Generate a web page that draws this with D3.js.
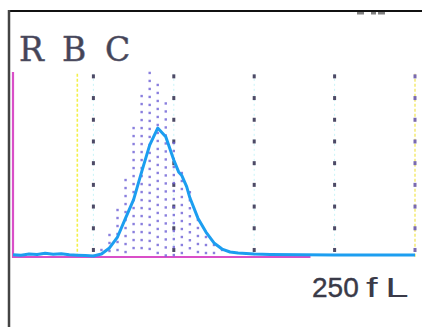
<!DOCTYPE html>
<html><head><meta charset="utf-8">
<script src="https://cdn.jsdelivr.net/npm/d3@7"></script>
<style>html,body{margin:0;padding:0;background:#fff;}svg{display:block;}</style>
</head><body>
<svg id="c" width="422" height="327"></svg>
<script>
// Raw histogram columns (fL) and their heights (relative counts, 0-100)
const rawBins = [55,60,65,70,75,80,85,90,95,100,105,110,115,120,125,130];
const rawVals = [3.8,11.9,25.4,41.6,69.7,87,99.5,93,83,61.6,45.4,35,20,10.8,6.5,3.8];
// Smoothed curve (fL, relative counts)
const curveFl  = [0,5,10,15,20,25,30,35,40,45,50,55,60,65,70,75,80,85,90,95,100,103,105,108,110,115,120,125,130,135,140,150,160,180,200,220,250];
const curveVal = [1.2,1.0,1.6,1.3,2.0,1.5,1.8,1.2,1.0,0.8,0.5,1.6,4.9,10.8,21,31,46,60.5,69.7,65,52.4,46,44,38,32,21,13.5,7.6,4.3,2.7,2.2,1.6,1.4,1.2,1.1,1.1,1.1];
const gridFl = [50,100,150,200];
const discrimFl = 40;
const titleLetters = ["R","B","C"];
const xLabelNum = "250";
const xLabelUnit = "fL";

const svg = d3.select("#c");
const x = d3.scaleLinear().domain([0,250]).range([13,415]);
const y = d3.scaleLinear().domain([0,100]).range([257,72]);

// frame
svg.append("line").attr("x1",8).attr("x2",422).attr("y1",11).attr("y2",11).attr("stroke","#111").attr("stroke-width",2);
svg.append("line").attr("x1",9).attr("x2",9).attr("y1",10).attr("y2",327).attr("stroke","#444").attr("stroke-width",2.5);
// top marks
[[357,7],[371,5],[378,7]].forEach(d=>svg.append("rect").attr("x",d[0]).attr("y",12).attr("width",d[1]).attr("height",2.5).attr("fill","#555").attr("opacity",0.75));

// title letters (serif, widely spaced)
svg.selectAll("text.title").data(titleLetters).enter().append("text").attr("class","title")
  .attr("x",(d,i)=>19+i*43).attr("y",61).text(d=>d)
  .style("font-family","'DejaVu Serif', 'Liberation Serif', serif")
  .style("font-size","33px").attr("fill","#444456").attr("stroke","#5a5a70").attr("stroke-width",0.5);

// discriminator (yellow dotted)
svg.append("line").attr("x1",x(discrimFl)).attr("x2",x(discrimFl)).attr("y1",y(99)).attr("y2",y(0))
  .attr("stroke","#f3f04a").attr("stroke-width",1.6).attr("stroke-dasharray","3,2");
// right edge line
svg.append("line").attr("x1",x(250)).attr("x2",x(250)).attr("y1",y(99)).attr("y2",y(0))
  .attr("stroke","#f3e86a").attr("stroke-width",1.4).attr("stroke-dasharray","3,2");

// grid lines: faint cyan plus dark dots
const dotVals = d3.range(3.8, 100, 11.73);
gridFl.concat([250]).forEach(f=>{
  if (f!==250) svg.append("line").attr("x1",x(f)).attr("x2",x(f)).attr("y1",y(99)).attr("y2",y(0))
     .attr("stroke","#c8f4f8").attr("stroke-width",1).attr("stroke-dasharray","2,3");
  svg.selectAll(null).data(dotVals).enter().append("rect")
    .attr("x",x(f)-1.5).attr("y",d=>y(d)-2).attr("width",3).attr("height",4)
    .attr("fill", f===250 ? "#7a6ab0" : "#4d4a66");
});

// axes (magenta)
svg.append("line").attr("x1",x(0)).attr("x2",x(0)).attr("y1",y(100)).attr("y2",y(0)+1)
  .attr("stroke","#d94fc8").attr("stroke-width",2.2);
svg.append("line").attr("x1",x(0)).attr("x2",x(185)).attr("y1",y(0)).attr("y2",y(0))
  .attr("stroke","#d94fc8").attr("stroke-width",2.2);

// raw dotted columns
const step = 8/1.85;
const dots = [];
rawBins.forEach((b,i)=>{
  for (let v = rawVals[i]; v > 0.8; v -= step) dots.push({f:b, v:v});
});
svg.selectAll("rect.dot").data(dots).enter().append("rect").attr("class","dot")
  .attr("x",d=>x(d.f)-1.2).attr("y",d=>y(d.v)-1.2).attr("width",2.4).attr("height",2.4)
  .attr("fill","#6d5fd6").attr("opacity",0.8);

// smooth curve
const line = d3.line().x((d,i)=>x(curveFl[i])).y((d,i)=>y(curveVal[i])).curve(d3.curveLinear);
svg.append("path").datum(curveVal).attr("d",line).attr("fill","none")
  .attr("stroke","#1c9ef0").attr("stroke-width",3).attr("stroke-linejoin","round");

// x label
const lblStyle = sel => sel.style("font-family","'Liberation Sans', Arial, sans-serif").style("font-size","28px")
  .attr("fill","#3a3a48");
svg.append("text").attr("x",312).attr("y",297).text(xLabelNum).call(lblStyle)
  .attr("stroke","#3a3a48").attr("stroke-width",0.4);
svg.append("text").attr("transform","translate(366,297) scale(1.5,1)")
  .attr("letter-spacing",5).text(xLabelUnit).call(lblStyle);
</script>
</body></html>
